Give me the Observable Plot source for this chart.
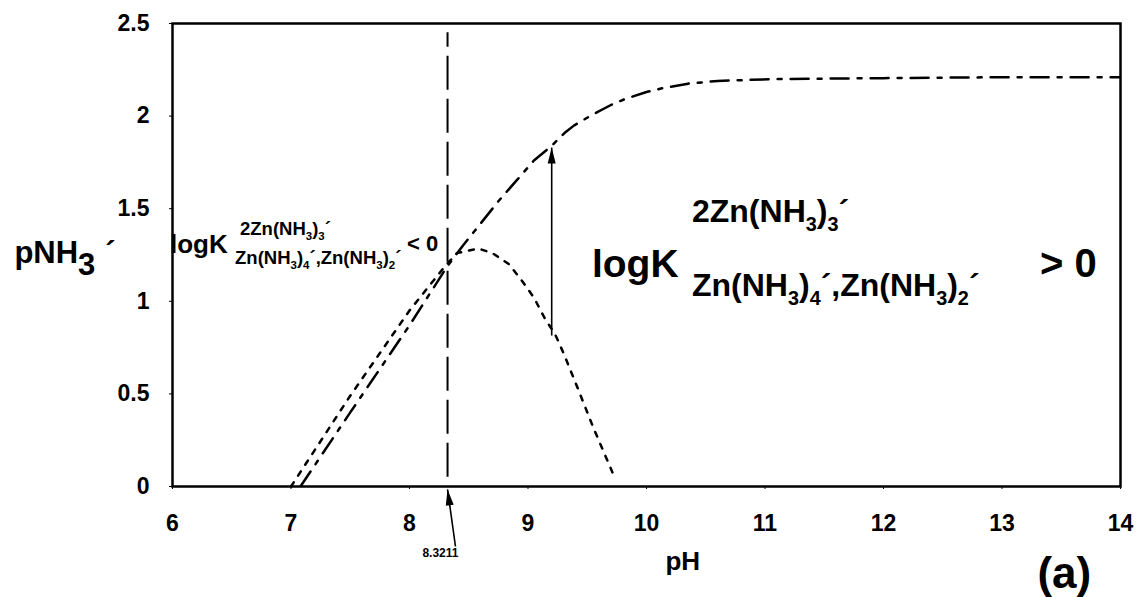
<!DOCTYPE html>
<html>
<head>
<meta charset="utf-8">
<script src="https://cdn.jsdelivr.net/npm/d3@7"></script>
<script src="https://cdn.jsdelivr.net/npm/@observablehq/plot@0.6"></script>
<style>
  html, body { margin: 0; padding: 0; background: #fff; overflow: hidden; }
  #chart svg { display: block; }
</style>
</head>
<body>
<div id="chart"></div>
<script>
// ---- axis ticks ----
const xTicks = [6, 7, 8, 9, 10, 11, 12, 13, 14];
const yTicks = [0, 0.5, 1, 1.5, 2, 2.5];
const yTickLabels = ["0", "0.5", "1", "1.5", "2", "2.5"];

// ---- upper boundary (dash-dot) : pH vs pNH3' ----
const upperPH = [7.08, 7.5, 8.0, 8.32, 8.45, 8.6, 8.75, 8.9, 9.05, 9.2, 9.31, 9.39, 9.55, 9.7, 9.81, 10.0, 10.13, 10.35, 10.6, 11.08, 12.0, 13.0, 14.0];
const upperP  = [0.0, 0.40, 0.87, 1.19, 1.30, 1.42, 1.54, 1.65, 1.76, 1.84, 1.91, 1.95, 2.01, 2.06, 2.09, 2.13, 2.15, 2.175, 2.19, 2.20, 2.205, 2.21, 2.21];

// ---- lower boundary (dotted) ----
const lowerPH = [7.0, 7.5, 8.0, 8.3, 8.4, 8.58, 8.7, 8.84, 8.95, 9.05, 9.14, 9.23, 9.30, 9.42, 9.55, 9.69, 9.73];
const lowerP  = [0.0, 0.49, 0.95, 1.19, 1.26, 1.285, 1.26, 1.20, 1.11, 1.02, 0.91, 0.82, 0.72, 0.53, 0.32, 0.11, 0.05];

// ---- special pH ----
const markPH = [8.3211];
const markLabel = ["8.3211"];

// ---- arrows (tail -> tip) ----
const arrowX1 = [9.2, 8.388];
const arrowY1 = [0.815, -0.324];
const arrowX2 = [9.2, 8.3211];
const arrowY2 = [1.83, -0.016];

const upper = upperPH.map((d, i) => ({pH: d, p: upperP[i]}));
const lower = lowerPH.map((d, i) => ({pH: d, p: lowerP[i]}));

const W = 1140, H = 597;
const mL = 172, mR = 20, mT = 23, mB = 111;
const xs = Plot.scale({x: {domain: [6, 14], range: [mL, W - mR]}});
const ys = Plot.scale({y: {domain: [0, 2.5], range: [H - mB, mT]}});

const arrows = arrowX1.map((d, i) => {
  const dx = xs.apply(arrowX2[i]) - xs.apply(d);
  const dy = ys.apply(arrowY2[i]) - ys.apply(arrowY1[i]);
  return {x1: d, y1: arrowY1[i], x2: arrowX2[i], y2: arrowY2[i], angle: Math.atan2(dx, -dy) * 180 / Math.PI};
});

const arrowHead = {
  draw(context, size) {
    const s = Math.sqrt(size);
    context.moveTo(0, 0);
    context.lineTo(s * 0.3, s * 1.2);
    context.lineTo(-s * 0.3, s * 1.2);
    context.closePath();
  }
};

const FONT = "'Liberation Sans', Arial, Helvetica, sans-serif";

const chart = Plot.plot({
  width: W,
  height: H,
  marginLeft: mL,
  marginRight: mR,
  marginTop: mT,
  marginBottom: mB,
  style: {fontFamily: FONT, fontWeight: "bold", background: "#fff", color: "#000", overflow: "visible"},
  x: {domain: [6, 14]},
  y: {domain: [0, 2.5]},
  marks: [
    Plot.axisX({ticks: xTicks, tickSize: 3, tickPadding: 25, fontSize: 23, fontWeight: "bold", label: null, tickFormat: d => String(d)}),
    Plot.axisY({ticks: yTicks, tickSize: 3, tickPadding: 20, fontSize: 23, fontWeight: "bold", label: null,
                tickFormat: d => yTickLabels[yTicks.indexOf(d)]}),
    Plot.ruleX(markPH, {y1: 0.05, y2: 2.45, stroke: "#000", strokeWidth: 2, strokeDasharray: "34,9"}),
    Plot.line(lower, {x: "pH", y: "p", stroke: "#000", strokeWidth: 2.5, strokeDasharray: "5,8"}),
    Plot.line(upper, {x: "pH", y: "p", stroke: "#000", strokeWidth: 2.5, strokeDasharray: "18,9,4,9", clip: true}),
    Plot.link(arrows, {x1: "x1", y1: "y1", x2: "x2", y2: "y2", stroke: "#000", strokeWidth: 1.6}),
    Plot.dot(arrows, {x: "x2", y: "y2", symbol: arrowHead, r: 7.5, rotate: "angle", fill: "#000", stroke: null}),
    Plot.text(markPH, {x: d => d - 0.06, y: -0.383, text: (d, i) => markLabel[i], fontSize: 12, fontWeight: "bold", lineAnchor: "bottom", fill: "#000"}),
    Plot.frame({stroke: "#000", strokeWidth: 2.5})
  ]
});

document.getElementById("chart").appendChild(chart);

// ---- rich text annotations (sub/superscripts) ----
const X = v => chart.scale("x").apply(v);
const Y = v => chart.scale("y").apply(v);
const svg = d3.select(chart);
const g = svg.append("g").attr("font-family", FONT).attr("font-weight", "bold").attr("fill", "#000").attr("text-anchor", "start");

function rich(x, y, size, str, anchor = "start") {
  const t = g.append("text").attr("x", x).attr("y", y).attr("font-size", size).attr("text-anchor", anchor);
  const parts = str.split(/(_\d)/).filter(s => s.length);
  let shift = 0;
  for (const p of parts) {
    const isSub = p[0] === "_";
    const target = isSub ? 0.28 * size : 0;
    const ts = t.append("tspan").text(isSub ? p.slice(1) : p).attr("font-size", isSub ? 0.62 * size : size);
    if (target !== shift) { ts.attr("dy", target - shift); shift = target; }
  }
  return t;
}

// y axis title pNH3'
(function () {
  const t = g.append("text").attr("x", X(4.67)).attr("y", Y(1.205)).attr("font-size", 31).attr("text-anchor", "start");
  t.append("tspan").text("pNH");
  t.append("tspan").text("3").attr("dx", 0).attr("dy", 12);
  t.append("tspan").text("\u00B4").attr("dx", 10).attr("dy", -12);
})();

// x axis title
rich(X(10.31), Y(-0.452), 26, "pH", "middle");
// panel label
rich(X(13.53), Y(-0.55), 44, "(a)", "middle");

// left annotation
rich(X(5.983), Y(1.258), 26, "logK");
rich(X(6.574), Y(1.355), 18.5, "2Zn(NH_3)_3\u00B4");
rich(X(6.532), Y(1.199), 18.5, "Zn(NH_3)_4\u00B4,Zn(NH_3)_2\u00B4");
rich(X(7.983), Y(1.269), 22, "< 0");

// right annotation
rich(X(9.544), Y(1.128), 39, "logK");
rich(X(10.388), Y(1.425), 32, "2Zn(NH_3)_3\u00B4");
rich(X(10.388), Y(1.026), 32, "Zn(NH_3)_4\u00B4,Zn(NH_3)_2\u00B4");
rich(X(13.325), Y(1.128), 40, "> 0");
</script>
</body>
</html>
